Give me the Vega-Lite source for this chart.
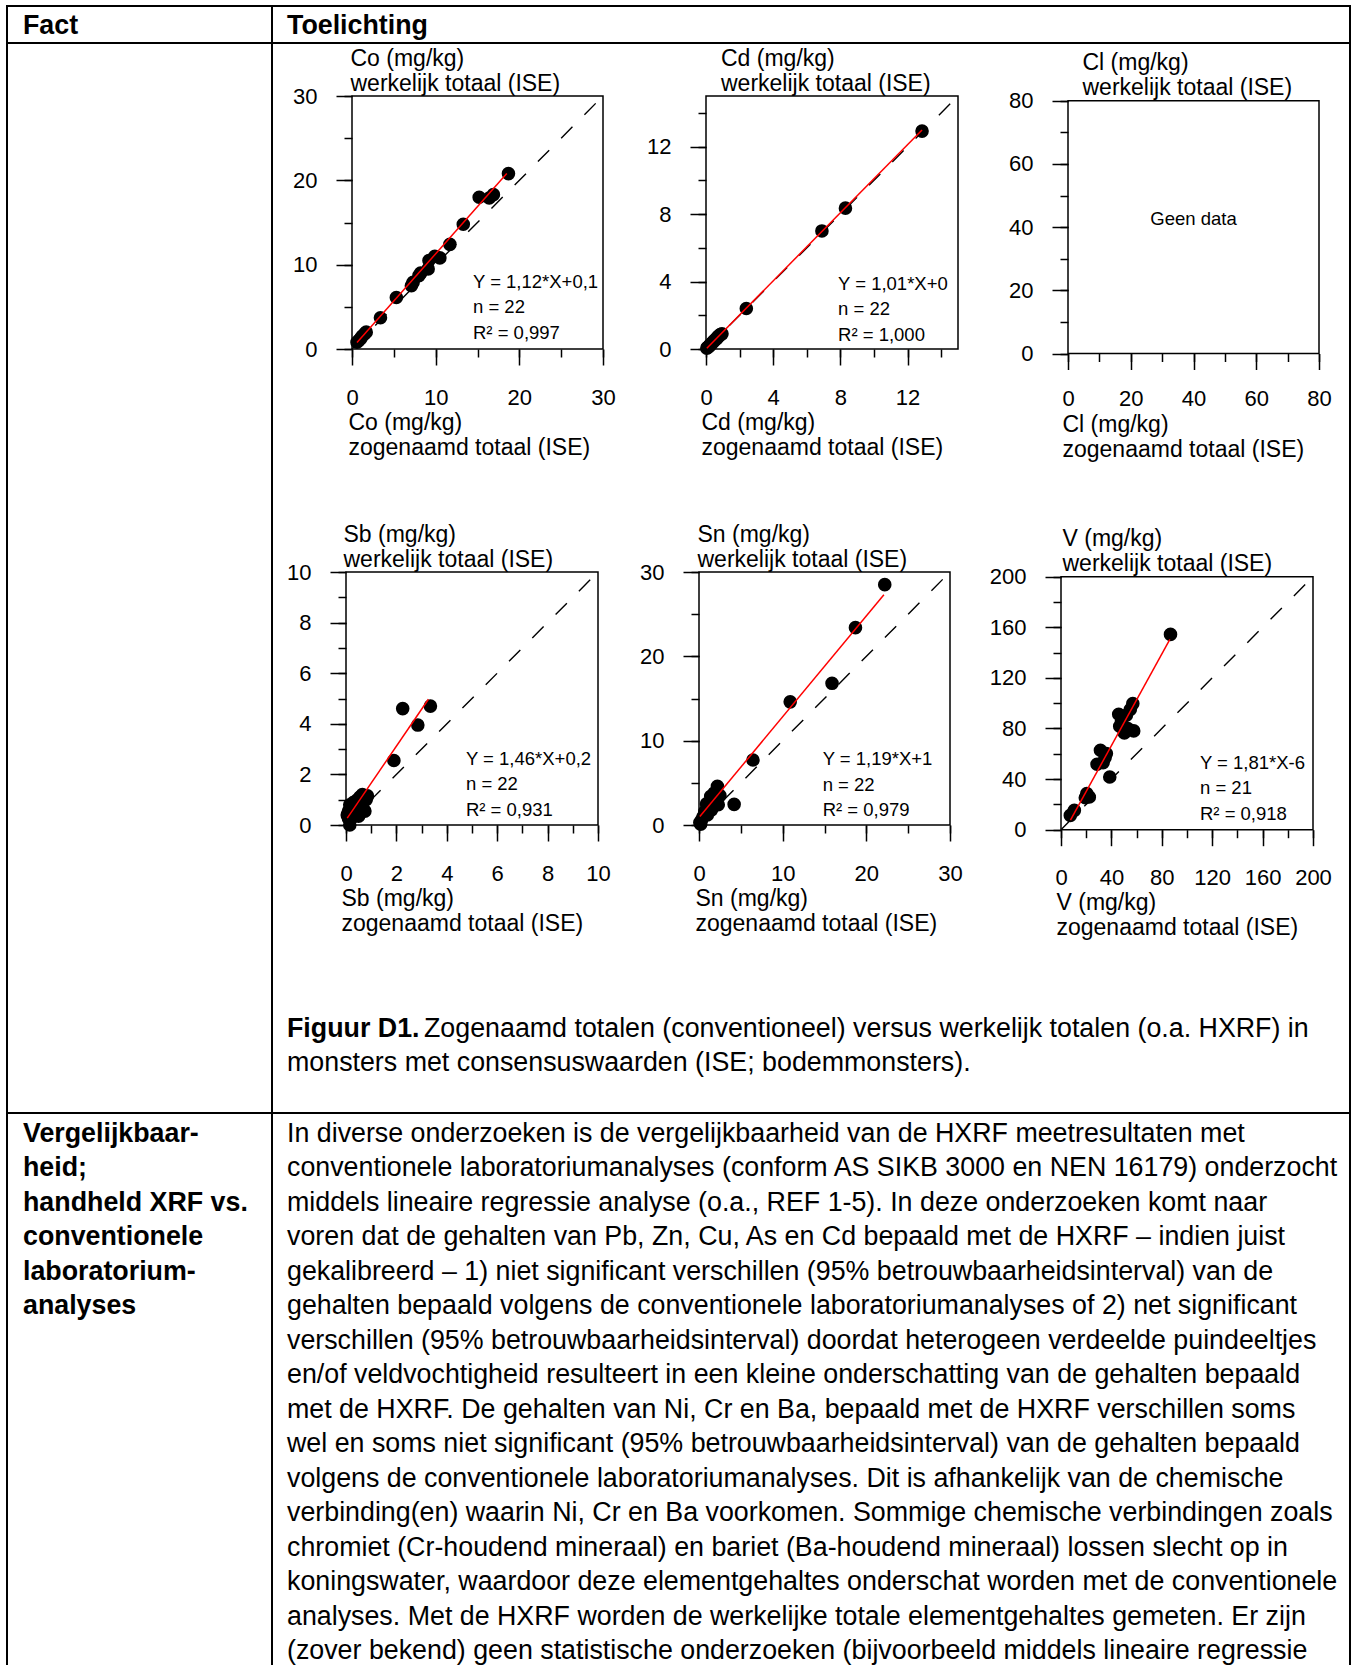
{
"$schema": "https://vega.github.io/schema/vega-lite/v6.json",
"padding": {"left": 6, "top": 5, "right": 0, "bottom": 0},
"background": "white",
"data": {"values": []},
"columns": 11,
"spacing": 0,
"bounds": "flush",
"align": "each",
"config": {
  "view": {"stroke": null},
  "font": "Liberation Sans",
  "text": {"font": "Liberation Sans", "color": "black"},
  "axis": {"domain": false, "grid": false, "tickColor": "black", "tickWidth": 1.5, "labelColor": "black", "labelFont": "Liberation Sans", "labelFontSize": 22, "labelFlush": false, "labelOverlap": false, "titleFont": "Liberation Sans", "titleFontSize": 23, "titleFontWeight": "normal", "titleColor": "black", "titleLineHeight": 25}
},
"concat": [
{"width":2,"height":2,"mark":"text","view":{"fill":"black"}},
{"width":263,"height":2,"mark":"text","view":{"fill":"black"}},
{"width":2,"height":2,"mark":"text","view":{"fill":"black"}},
{"width":73,"height":2,"mark":"text","view":{"fill":"black"}},
{"width":257,"height":2,"mark":"text","view":{"fill":"black"}},
{"width":96,"height":2,"mark":"text","view":{"fill":"black"}},
{"width":259,"height":2,"mark":"text","view":{"fill":"black"}},
{"width":103,"height":2,"mark":"text","view":{"fill":"black"}},
{"width":258,"height":2,"mark":"text","view":{"fill":"black"}},
{"width":30,"height":2,"mark":"text","view":{"fill":"black"}},
{"width":2,"height":2,"mark":"text","view":{"fill":"black"}},

{"width":2,"height":35,"mark":"text","view":{"fill":"black"}},
{"width":263,"height":35,"data":{"values":[{"t":"Fact"}]},"mark":{"type":"text","align":"left","baseline":"middle","fontSize":26.8,"fontWeight":"bold","dx":15,"dy":1},"encoding":{"text":{"field":"t"},"x":{"datum":0,"type":"quantitative","scale":{"domain":[0,1]},"axis":null}}},
{"width":2,"height":35,"mark":"text","view":{"fill":"black"}},
{"width":73,"height":35,"data":{"values":[{"t":"Toelichting"}]},"mark":{"type":"text","align":"left","baseline":"middle","fontSize":26.8,"fontWeight":"bold","dx":14,"dy":1},"encoding":{"text":{"field":"t"},"x":{"datum":0,"type":"quantitative","scale":{"domain":[0,1]},"axis":null}}},
{"width":257,"height":35,"mark":"text"},
{"width":96,"height":35,"mark":"text"},
{"width":259,"height":35,"mark":"text"},
{"width":103,"height":35,"mark":"text"},
{"width":258,"height":35,"mark":"text"},
{"width":30,"height":35,"mark":"text"},
{"width":2,"height":35,"mark":"text","view":{"fill":"black"}},

{"width":2,"height":2,"mark":"text","view":{"fill":"black"}},
{"width":263,"height":2,"mark":"text","view":{"fill":"black"}},
{"width":2,"height":2,"mark":"text","view":{"fill":"black"}},
{"width":73,"height":2,"mark":"text","view":{"fill":"black"}},
{"width":257,"height":2,"mark":"text","view":{"fill":"black"}},
{"width":96,"height":2,"mark":"text","view":{"fill":"black"}},
{"width":259,"height":2,"mark":"text","view":{"fill":"black"}},
{"width":103,"height":2,"mark":"text","view":{"fill":"black"}},
{"width":258,"height":2,"mark":"text","view":{"fill":"black"}},
{"width":30,"height":2,"mark":"text","view":{"fill":"black"}},
{"width":2,"height":2,"mark":"text","view":{"fill":"black"}},

{"width":2,"height":52,"mark":"text","view":{"fill":"black"}},
{"width":263,"height":52,"mark":"text"},
{"width":2,"height":52,"mark":"text","view":{"fill":"black"}},
{"width":73,"height":52,"mark":"text"},
{"width":257,"height":52,"mark":"text"},
{"width":96,"height":52,"mark":"text"},
{"width":259,"height":52,"mark":"text"},
{"width":103,"height":52,"mark":"text"},
{"width":258,"height":52,"mark":"text"},
{"width":30,"height":52,"mark":"text"},
{"width":2,"height":52,"mark":"text","view":{"fill":"black"}},

{"width":2,"height":253,"mark":"text","view":{"fill":"black"}},
{"width":263,"height":253,"mark":"text"},
{"width":2,"height":253,"mark":"text","view":{"fill":"black"}},
{"width":73,"height":253,"mark":"text"},
{"width":257,"height":253,"resolve":{"axis":{"x":"independent","y":"independent"}},"layer":[
 {"data":{"values":[{}]},"mark":{"type":"rect","filled":false,"color":"black","strokeWidth":1.5},"encoding":{
  "x":{"datum":0,"type":"quantitative","scale":{"domain":[0,30],"range":[6,257],"nice":false,"zero":false},"axis":null},"x2":{"datum":30},
  "y":{"datum":0,"type":"quantitative","scale":{"domain":[0,30],"nice":false,"zero":false},"axis":null},"y2":{"datum":30}}},
 {"data":{"values":[{"x":0,"y":0},{"x":30,"y":30}]},"mark":{"type":"line","color":"black","strokeWidth":1.4,"strokeDash":[16,17]},"encoding":{
  "x":{"field":"x","type":"quantitative","scale":{"domain":[0,30],"range":[6,257],"nice":false,"zero":false},"axis":{"orient":"bottom","values":[0,5,10,15,20,25,30],"tickSize":8,"labels":false,"title":null}},
  "y":{"field":"y","type":"quantitative","scale":{"domain":[0,30],"nice":false,"zero":false},"axis":{"orient":"left","offset":-6,"values":[0,5,10,15,20,25,30],"tickSize":8,"labels":false,"title":null}}}},
 {"data":{"values":[{"x":0.6,"y":0.8},{"x":0.8,"y":1.0},{"x":1.0,"y":1.2},{"x":1.2,"y":1.5},{"x":1.5,"y":1.8},{"x":1.7,"y":2.0},{"x":3.4,"y":3.7},{"x":5.3,"y":6.1},{"x":7.1,"y":7.5},{"x":7.3,"y":7.9},{"x":8.0,"y":8.7},{"x":8.2,"y":9.0},{"x":9.1,"y":9.5},{"x":9.2,"y":10.5},{"x":9.9,"y":11.0},{"x":10.5,"y":10.8},{"x":11.7,"y":12.4},{"x":13.3,"y":14.8},{"x":15.2,"y":18.0},{"x":16.4,"y":17.9},{"x":16.9,"y":18.3},{"x":18.7,"y":20.8}]},
  "mark":{"type":"circle","color":"black","opacity":1,"size":185},"encoding":{
  "x":{"field":"x","type":"quantitative","scale":{"domain":[0,30],"range":[6,257],"nice":false,"zero":false},"axis":{"orient":"bottom","values":[0,10,20,30],"tickSize":16,"labelBaseline":"alphabetic","labelPadding":39,"title":["Co (mg/kg)","zogenaamd totaal (ISE)"],"titleX":2,"titleY":80,"titleAngle":0,"titleAlign":"left","titleBaseline":"alphabetic"}},
  "y":{"field":"y","type":"quantitative","scale":{"domain":[0,30],"nice":false,"zero":false},"axis":{"orient":"left","offset":-6,"values":[0,10,20,30],"tickSize":16,"labelPadding":19,"title":["Co (mg/kg)","werkelijk totaal (ISE)"],"titleX":-2,"titleY":-31,"titleAngle":0,"titleAlign":"left","titleBaseline":"alphabetic"}}}},
 {"data":{"values":[{"x":0.6,"y":0.77},{"x":18.5,"y":20.8}]},"mark":{"type":"line","color":"#ff0000","strokeWidth":1.5},"encoding":{
  "x":{"field":"x","type":"quantitative","scale":{"domain":[0,30],"range":[6,257],"nice":false,"zero":false},"axis":null},
  "y":{"field":"y","type":"quantitative","scale":{"domain":[0,30],"nice":false,"zero":false},"axis":null}}},
 {"data":{"values":[{}]},"mark":{"type":"text","align":"left","baseline":"alphabetic","fontSize":18.5,"lineHeight":25.5},"encoding":{
  "text":{"value":["Y = 1,12*X+0,1","n = 22","R² = 0,997"]},
  "x":{"datum":14.46,"type":"quantitative","scale":{"domain":[0,30],"range":[6,257],"nice":false,"zero":false},"axis":null},
  "y":{"datum":7.28,"type":"quantitative","scale":{"domain":[0,30],"nice":false,"zero":false},"axis":null}}}
]},
{"width":96,"height":253,"mark":"text"},
{"width":259,"height":253,"resolve":{"axis":{"x":"independent","y":"independent"}},"layer":[
 {"data":{"values":[{}]},"mark":{"type":"rect","filled":false,"color":"black","strokeWidth":1.5},"encoding":{
  "x":{"datum":0,"type":"quantitative","scale":{"domain":[0,15],"range":[7,259],"nice":false,"zero":false},"axis":null},"x2":{"datum":15},
  "y":{"datum":0,"type":"quantitative","scale":{"domain":[0,15],"nice":false,"zero":false},"axis":null},"y2":{"datum":15}}},
 {"data":{"values":[{"x":0,"y":0},{"x":15,"y":15}]},"mark":{"type":"line","color":"black","strokeWidth":1.4,"strokeDash":[16,17]},"encoding":{
  "x":{"field":"x","type":"quantitative","scale":{"domain":[0,15],"range":[7,259],"nice":false,"zero":false},"axis":{"orient":"bottom","values":[0,2,4,6,8,10,12,14],"tickSize":8,"labels":false,"title":null}},
  "y":{"field":"y","type":"quantitative","scale":{"domain":[0,15],"nice":false,"zero":false},"axis":{"orient":"left","offset":-7,"values":[0,2,4,6,8,10,12,14],"tickSize":8,"labels":false,"title":null}}}},
 {"data":{"values":[{"x":0.05,"y":0.05},{"x":0.1,"y":0.1},{"x":0.15,"y":0.12},{"x":0.2,"y":0.2},{"x":0.25,"y":0.22},{"x":0.3,"y":0.3},{"x":0.35,"y":0.33},{"x":0.4,"y":0.4},{"x":0.45,"y":0.45},{"x":0.5,"y":0.5},{"x":0.55,"y":0.55},{"x":0.6,"y":0.6},{"x":0.65,"y":0.62},{"x":0.7,"y":0.72},{"x":0.75,"y":0.75},{"x":0.8,"y":0.8},{"x":0.85,"y":0.85},{"x":0.95,"y":0.9},{"x":2.4,"y":2.4},{"x":6.9,"y":7.0},{"x":8.3,"y":8.35},{"x":12.86,"y":12.92}]},
  "mark":{"type":"circle","color":"black","opacity":1,"size":185},"encoding":{
  "x":{"field":"x","type":"quantitative","scale":{"domain":[0,15],"range":[7,259],"nice":false,"zero":false},"axis":{"orient":"bottom","values":[0,4,8,12],"tickSize":16,"labelBaseline":"alphabetic","labelPadding":39,"title":["Cd (mg/kg)","zogenaamd totaal (ISE)"],"titleX":2,"titleY":80,"titleAngle":0,"titleAlign":"left","titleBaseline":"alphabetic"}},
  "y":{"field":"y","type":"quantitative","scale":{"domain":[0,15],"nice":false,"zero":false},"axis":{"orient":"left","offset":-7,"values":[0,4,8,12],"tickSize":16,"labelPadding":19,"title":["Cd (mg/kg)","werkelijk totaal (ISE)"],"titleX":14.5,"titleY":-31,"titleAngle":0,"titleAlign":"left","titleBaseline":"alphabetic"}}}},
 {"data":{"values":[{"x":0.05,"y":0.05},{"x":12.86,"y":12.99}]},"mark":{"type":"line","color":"#ff0000","strokeWidth":1.5},"encoding":{
  "x":{"field":"x","type":"quantitative","scale":{"domain":[0,15],"range":[7,259],"nice":false,"zero":false},"axis":null},
  "y":{"field":"y","type":"quantitative","scale":{"domain":[0,15],"nice":false,"zero":false},"axis":null}}},
 {"data":{"values":[{}]},"mark":{"type":"text","align":"left","baseline":"alphabetic","fontSize":18.5,"lineHeight":25.5},"encoding":{
  "text":{"value":["Y = 1,01*X+0","n = 22","R² = 1,000"]},
  "x":{"datum":7.86,"type":"quantitative","scale":{"domain":[0,15],"range":[7,259],"nice":false,"zero":false},"axis":null},
  "y":{"datum":3.52,"type":"quantitative","scale":{"domain":[0,15],"nice":false,"zero":false},"axis":null}}}
]},
{"width":103,"height":253,"mark":"text"},
{"width":258,"height":253,"resolve":{"axis":{"x":"independent","y":"independent"}},"layer":[
 {"data":{"values":[{}]},"mark":{"type":"rect","filled":false,"color":"black","strokeWidth":1.5},"encoding":{
  "x":{"datum":0,"type":"quantitative","scale":{"domain":[0,80],"range":[7,258],"nice":false,"zero":false},"axis":null},"x2":{"datum":80},
  "y":{"datum":0,"type":"quantitative","scale":{"domain":[0,80],"range":[257.5,4.7],"nice":false,"zero":false},"axis":null},"y2":{"datum":80}}},
 {"data":{"values":[{}]},"mark":{"type":"text","text":""},"encoding":{
  "x":{"datum":0,"type":"quantitative","scale":{"domain":[0,80],"range":[7,258],"nice":false,"zero":false},"axis":{"orient":"bottom","offset":4.5,"values":[0,10,20,30,40,50,60,70,80],"tickSize":8,"labels":false,"title":null}},
  "y":{"datum":0,"type":"quantitative","scale":{"domain":[0,80],"range":[257.5,4.7],"nice":false,"zero":false},"axis":{"orient":"left","offset":-7,"values":[0,10,20,30,40,50,60,70,80],"tickSize":8,"labels":false,"title":null}}}},
 {"data":{"values":[{}]},"mark":{"type":"text","align":"center","baseline":"middle","fontSize":18.5},"encoding":{
  "text":{"value":"Geen data"},
  "x":{"datum":40,"type":"quantitative","scale":{"domain":[0,80],"range":[7,258],"nice":false,"zero":false},"axis":{"orient":"bottom","offset":4.5,"values":[0,20,40,60,80],"tickSize":16,"labelBaseline":"alphabetic","labelPadding":36,"title":["Cl (mg/kg)","zogenaamd totaal (ISE)"],"titleX":1,"titleY":78,"titleAngle":0,"titleAlign":"left","titleBaseline":"alphabetic"}},
  "y":{"datum":42.6,"type":"quantitative","scale":{"domain":[0,80],"range":[257.5,4.7],"nice":false,"zero":false},"axis":{"orient":"left","offset":-7,"values":[0,20,40,60,80],"tickSize":16,"labelPadding":19,"title":["Cl (mg/kg)","werkelijk totaal (ISE)"],"titleX":14,"titleY":-26.5,"titleAngle":0,"titleAlign":"left","titleBaseline":"alphabetic"}}}}
]},
{"width":30,"height":253,"mark":"text"},
{"width":2,"height":253,"mark":"text","view":{"fill":"black"}},

{"width":2,"height":223,"mark":"text","view":{"fill":"black"}},
{"width":263,"height":223,"mark":"text"},
{"width":2,"height":223,"mark":"text","view":{"fill":"black"}},
{"width":73,"height":223,"mark":"text"},
{"width":257,"height":223,"mark":"text"},
{"width":96,"height":223,"mark":"text"},
{"width":259,"height":223,"mark":"text"},
{"width":103,"height":223,"mark":"text"},
{"width":258,"height":223,"mark":"text"},
{"width":30,"height":223,"mark":"text"},
{"width":2,"height":223,"mark":"text","view":{"fill":"black"}},

{"width":2,"height":253,"mark":"text","view":{"fill":"black"}},
{"width":263,"height":253,"mark":"text"},
{"width":2,"height":253,"mark":"text","view":{"fill":"black"}},
{"width":73,"height":253,"mark":"text"},
{"width":257,"height":253,"resolve":{"axis":{"x":"independent","y":"independent"}},"layer":[
 {"data":{"values":[{}]},"mark":{"type":"rect","filled":false,"color":"black","strokeWidth":1.5},"encoding":{
  "x":{"datum":0,"type":"quantitative","scale":{"domain":[0,10],"range":[0,252],"nice":false,"zero":false},"axis":null},"x2":{"datum":10},
  "y":{"datum":0,"type":"quantitative","scale":{"domain":[0,10],"nice":false,"zero":false},"axis":null},"y2":{"datum":10}}},
 {"data":{"values":[{"x":0,"y":0},{"x":10,"y":10}]},"mark":{"type":"line","color":"black","strokeWidth":1.4,"strokeDash":[16,17]},"encoding":{
  "x":{"field":"x","type":"quantitative","scale":{"domain":[0,10],"range":[0,252],"nice":false,"zero":false},"axis":{"orient":"bottom","values":[0,1,2,3,4,5,6,7,8,9,10],"tickSize":8,"labels":false,"title":null}},
  "y":{"field":"y","type":"quantitative","scale":{"domain":[0,10],"nice":false,"zero":false},"axis":{"orient":"left","values":[0,1,2,3,4,5,6,7,8,9,10],"tickSize":8,"labels":false,"title":null}}}},
 {"data":{"values":[{"x":0.15,"y":0.0},{"x":0.1,"y":0.25},{"x":0.05,"y":0.4},{"x":0.1,"y":0.55},{"x":0.2,"y":0.6},{"x":0.15,"y":0.8},{"x":0.3,"y":0.5},{"x":0.3,"y":0.9},{"x":0.4,"y":0.7},{"x":0.45,"y":1.0},{"x":0.55,"y":1.1},{"x":0.6,"y":0.8},{"x":0.65,"y":1.2},{"x":0.75,"y":0.55},{"x":0.8,"y":1.0},{"x":0.85,"y":1.15},{"x":0.25,"y":0.3},{"x":0.5,"y":0.35},{"x":1.9,"y":2.55},{"x":2.25,"y":4.6},{"x":2.85,"y":3.95},{"x":3.35,"y":4.7}]},
  "mark":{"type":"circle","color":"black","opacity":1,"size":185},"encoding":{
  "x":{"field":"x","type":"quantitative","scale":{"domain":[0,10],"range":[0,252],"nice":false,"zero":false},"axis":{"orient":"bottom","values":[0,2,4,6,8,10],"tickSize":16,"labelBaseline":"alphabetic","labelPadding":39,"title":["Sb (mg/kg)","zogenaamd totaal (ISE)"],"titleX":-5,"titleY":80,"titleAngle":0,"titleAlign":"left","titleBaseline":"alphabetic"}},
  "y":{"field":"y","type":"quantitative","scale":{"domain":[0,10],"nice":false,"zero":false},"axis":{"orient":"left","values":[0,2,4,6,8,10],"tickSize":16,"labelPadding":19,"title":["Sb (mg/kg)","werkelijk totaal (ISE)"],"titleX":-3,"titleY":-31,"titleAngle":0,"titleAlign":"left","titleBaseline":"alphabetic"}}}},
 {"data":{"values":[{"x":0.05,"y":0.27},{"x":3.27,"y":4.97}]},"mark":{"type":"line","color":"#ff0000","strokeWidth":1.5},"encoding":{
  "x":{"field":"x","type":"quantitative","scale":{"domain":[0,10],"range":[0,252],"nice":false,"zero":false},"axis":null},
  "y":{"field":"y","type":"quantitative","scale":{"domain":[0,10],"nice":false,"zero":false},"axis":null}}},
 {"data":{"values":[{}]},"mark":{"type":"text","align":"left","baseline":"alphabetic","fontSize":18.5,"lineHeight":25.5},"encoding":{
  "text":{"value":["Y = 1,46*X+0,2","n = 22","R² = 0,931"]},
  "x":{"datum":4.76,"type":"quantitative","scale":{"domain":[0,10],"range":[0,252],"nice":false,"zero":false},"axis":null},
  "y":{"datum":2.39,"type":"quantitative","scale":{"domain":[0,10],"nice":false,"zero":false},"axis":null}}}
]},
{"width":96,"height":253,"mark":"text"},
{"width":259,"height":253,"resolve":{"axis":{"x":"independent","y":"independent"}},"layer":[
 {"data":{"values":[{}]},"mark":{"type":"rect","filled":false,"color":"black","strokeWidth":1.5},"encoding":{
  "x":{"datum":0,"type":"quantitative","scale":{"domain":[0,30],"range":[0,251],"nice":false,"zero":false},"axis":null},"x2":{"datum":30},
  "y":{"datum":0,"type":"quantitative","scale":{"domain":[0,30],"nice":false,"zero":false},"axis":null},"y2":{"datum":30}}},
 {"data":{"values":[{"x":0,"y":0},{"x":30,"y":30}]},"mark":{"type":"line","color":"black","strokeWidth":1.4,"strokeDash":[16,17]},"encoding":{
  "x":{"field":"x","type":"quantitative","scale":{"domain":[0,30],"range":[0,251],"nice":false,"zero":false},"axis":{"orient":"bottom","values":[0,5,10,15,20,25,30],"tickSize":8,"labels":false,"title":null}},
  "y":{"field":"y","type":"quantitative","scale":{"domain":[0,30],"nice":false,"zero":false},"axis":{"orient":"left","values":[0,5,10,15,20,25,30],"tickSize":8,"labels":false,"title":null}}}},
 {"data":{"values":[{"x":0.1,"y":0.3},{"x":0.2,"y":0.1},{"x":0.3,"y":0.6},{"x":0.5,"y":1.0},{"x":0.7,"y":1.6},{"x":0.9,"y":2.5},{"x":1.0,"y":1.2},{"x":1.2,"y":2.0},{"x":1.4,"y":3.4},{"x":1.5,"y":1.8},{"x":1.6,"y":2.6},{"x":1.8,"y":3.8},{"x":2.0,"y":3.0},{"x":2.2,"y":4.6},{"x":2.3,"y":2.4},{"x":2.5,"y":3.5},{"x":4.2,"y":2.45},{"x":6.45,"y":7.7},{"x":10.9,"y":14.6},{"x":15.9,"y":16.8},{"x":18.7,"y":23.4},{"x":22.2,"y":28.5}]},
  "mark":{"type":"circle","color":"black","opacity":1,"size":185},"encoding":{
  "x":{"field":"x","type":"quantitative","scale":{"domain":[0,30],"range":[0,251],"nice":false,"zero":false},"axis":{"orient":"bottom","values":[0,10,20,30],"tickSize":16,"labelBaseline":"alphabetic","labelPadding":39,"title":["Sn (mg/kg)","zogenaamd totaal (ISE)"],"titleX":-4,"titleY":80,"titleAngle":0,"titleAlign":"left","titleBaseline":"alphabetic"}},
  "y":{"field":"y","type":"quantitative","scale":{"domain":[0,30],"nice":false,"zero":false},"axis":{"orient":"left","values":[0,10,20,30],"tickSize":16,"labelPadding":19,"title":["Sn (mg/kg)","werkelijk totaal (ISE)"],"titleX":-2,"titleY":-31,"titleAngle":0,"titleAlign":"left","titleBaseline":"alphabetic"}}}},
 {"data":{"values":[{"x":0.1,"y":1.0},{"x":22.1,"y":27.3}]},"mark":{"type":"line","color":"#ff0000","strokeWidth":1.5},"encoding":{
  "x":{"field":"x","type":"quantitative","scale":{"domain":[0,30],"range":[0,251],"nice":false,"zero":false},"axis":null},
  "y":{"field":"y","type":"quantitative","scale":{"domain":[0,30],"nice":false,"zero":false},"axis":null}}},
 {"data":{"values":[{}]},"mark":{"type":"text","align":"left","baseline":"alphabetic","fontSize":18.5,"lineHeight":25.5},"encoding":{
  "text":{"value":["Y = 1,19*X+1","n = 22","R² = 0,979"]},
  "x":{"datum":14.78,"type":"quantitative","scale":{"domain":[0,30],"range":[0,251],"nice":false,"zero":false},"axis":null},
  "y":{"datum":7.08,"type":"quantitative","scale":{"domain":[0,30],"nice":false,"zero":false},"axis":null}}}
]},
{"width":103,"height":253,"mark":"text"},
{"width":258,"height":253,"resolve":{"axis":{"x":"independent","y":"independent"}},"layer":[
 {"data":{"values":[{}]},"mark":{"type":"rect","filled":false,"color":"black","strokeWidth":1.5},"encoding":{
  "x":{"datum":0,"type":"quantitative","scale":{"domain":[0,200],"range":[0,252],"nice":false,"zero":false},"axis":null},"x2":{"datum":200},
  "y":{"datum":0,"type":"quantitative","scale":{"domain":[0,200],"range":[257.7,4.7],"nice":false,"zero":false},"axis":null},"y2":{"datum":200}}},
 {"data":{"values":[{"x":0,"y":0},{"x":200,"y":200}]},"mark":{"type":"line","color":"black","strokeWidth":1.4,"strokeDash":[16,17]},"encoding":{
  "x":{"field":"x","type":"quantitative","scale":{"domain":[0,200],"range":[0,252],"nice":false,"zero":false},"axis":{"orient":"bottom","offset":4.7,"values":[0,20,40,60,80,100,120,140,160,180,200],"tickSize":8,"labels":false,"title":null}},
  "y":{"field":"y","type":"quantitative","scale":{"domain":[0,200],"range":[257.7,4.7],"nice":false,"zero":false},"axis":{"orient":"left","values":[0,20,40,60,80,100,120,140,160,180,200],"tickSize":8,"labels":false,"title":null}}}},
 {"data":{"values":[{"x":7.4,"y":11.3},{"x":10.6,"y":15.3},{"x":19.3,"y":25.3},{"x":22.5,"y":25.9},{"x":20.5,"y":28.5},{"x":28.6,"y":51.7},{"x":31.3,"y":62.8},{"x":33.4,"y":53.0},{"x":36.0,"y":60.2},{"x":35.0,"y":57.0},{"x":38.7,"y":41.7},{"x":45.8,"y":91.3},{"x":46.6,"y":81.8},{"x":48.0,"y":86.0},{"x":51.9,"y":90.5},{"x":50.3,"y":76.5},{"x":53.0,"y":80.0},{"x":55.0,"y":95.0},{"x":57.7,"y":78.1},{"x":57.0,"y":99.7},{"x":86.9,"y":154.4}]},
  "mark":{"type":"circle","color":"black","opacity":1,"size":185},"encoding":{
  "x":{"field":"x","type":"quantitative","scale":{"domain":[0,200],"range":[0,252],"nice":false,"zero":false},"axis":{"orient":"bottom","offset":4.7,"values":[0,40,80,120,160,200],"tickSize":16,"labelBaseline":"alphabetic","labelPadding":39,"title":["V (mg/kg)","zogenaamd totaal (ISE)"],"titleX":-5,"titleY":80,"titleAngle":0,"titleAlign":"left","titleBaseline":"alphabetic"}},
  "y":{"field":"y","type":"quantitative","scale":{"domain":[0,200],"range":[257.7,4.7],"nice":false,"zero":false},"axis":{"orient":"left","values":[0,40,80,120,160,200],"tickSize":16,"labelPadding":19,"title":["V (mg/kg)","werkelijk totaal (ISE)"],"titleX":1,"titleY":-26.7,"titleAngle":0,"titleAlign":"left","titleBaseline":"alphabetic"}}}},
 {"data":{"values":[{"x":7.5,"y":7.6},{"x":86.4,"y":150.4}]},"mark":{"type":"line","color":"#ff0000","strokeWidth":1.5},"encoding":{
  "x":{"field":"x","type":"quantitative","scale":{"domain":[0,200],"range":[0,252],"nice":false,"zero":false},"axis":null},
  "y":{"field":"y","type":"quantitative","scale":{"domain":[0,200],"range":[257.7,4.7],"nice":false,"zero":false},"axis":null}}},
 {"data":{"values":[{}]},"mark":{"type":"text","align":"left","baseline":"alphabetic","fontSize":18.5,"lineHeight":25.5},"encoding":{
  "text":{"value":["Y = 1,81*X-6","n = 21","R² = 0,918"]},
  "x":{"datum":110.3,"type":"quantitative","scale":{"domain":[0,200],"range":[0,252],"nice":false,"zero":false},"axis":null},
  "y":{"datum":48.3,"type":"quantitative","scale":{"domain":[0,200],"range":[257.7,4.7],"nice":false,"zero":false},"axis":null}}}
]},
{"width":30,"height":253,"mark":"text"},
{"width":2,"height":253,"mark":"text","view":{"fill":"black"}},

{"width":2,"height":287,"mark":"text","view":{"fill":"black"}},
{"width":263,"height":287,"mark":"text"},
{"width":2,"height":287,"mark":"text","view":{"fill":"black"}},
{"width":73,"height":287,"layer":[
 {"data":{"values":[{"t":"Figuur D1.","line":1}]},"mark":{"type":"text","align":"left","baseline":"middle","fontSize":26.8,"fontWeight":"bold","dx":14},"encoding":{"text":{"field":"t"},"x":{"datum":0,"type":"quantitative","scale":{"domain":[0,1]},"axis":null},"y":{"field":"line","type":"quantitative","scale":{"domain":[1,2],"range":[204,238]},"axis":null}}},
 {"data":{"values":[{"t":"Zogenaamd totalen (conventioneel) versus werkelijk totalen (o.a. HXRF) in","line":1}]},"mark":{"type":"text","align":"left","baseline":"middle","fontSize":26.8,"dx":151},"encoding":{"text":{"field":"t"},"x":{"datum":0,"type":"quantitative","scale":{"domain":[0,1]},"axis":null},"y":{"field":"line","type":"quantitative","scale":{"domain":[1,2],"range":[204,238]},"axis":null}}},
 {"data":{"values":[{"t":"monsters met consensuswaarden (ISE; bodemmonsters).","line":2}]},"mark":{"type":"text","align":"left","baseline":"middle","fontSize":26.8,"dx":14},"encoding":{"text":{"field":"t"},"x":{"datum":0,"type":"quantitative","scale":{"domain":[0,1]},"axis":null},"y":{"field":"line","type":"quantitative","scale":{"domain":[1,2],"range":[204,238]},"axis":null}}}
]},
{"width":257,"height":287,"mark":"text"},
{"width":96,"height":287,"mark":"text"},
{"width":259,"height":287,"mark":"text"},
{"width":103,"height":287,"mark":"text"},
{"width":258,"height":287,"mark":"text"},
{"width":30,"height":287,"mark":"text"},
{"width":2,"height":287,"mark":"text","view":{"fill":"black"}},

{"width":2,"height":2,"mark":"text","view":{"fill":"black"}},
{"width":263,"height":2,"mark":"text","view":{"fill":"black"}},
{"width":2,"height":2,"mark":"text","view":{"fill":"black"}},
{"width":73,"height":2,"mark":"text","view":{"fill":"black"}},
{"width":257,"height":2,"mark":"text","view":{"fill":"black"}},
{"width":96,"height":2,"mark":"text","view":{"fill":"black"}},
{"width":259,"height":2,"mark":"text","view":{"fill":"black"}},
{"width":103,"height":2,"mark":"text","view":{"fill":"black"}},
{"width":258,"height":2,"mark":"text","view":{"fill":"black"}},
{"width":30,"height":2,"mark":"text","view":{"fill":"black"}},
{"width":2,"height":2,"mark":"text","view":{"fill":"black"}},

{"width":2,"height":551,"mark":"text","view":{"fill":"black"}},
{"width":263,"height":551,"data":{"values":[{"line":1,"t":"Vergelijkbaar-"},{"line":2,"t":"heid;"},{"line":3,"t":"handheld XRF vs."},{"line":4,"t":"conventionele"},{"line":5,"t":"laboratorium-"},{"line":6,"t":"analyses"}]},"mark":{"type":"text","align":"left","baseline":"middle","fontSize":26.8,"fontWeight":"bold","dx":15},"encoding":{"text":{"field":"t"},"x":{"datum":0,"type":"quantitative","scale":{"domain":[0,1]},"axis":null},"y":{"field":"line","type":"quantitative","scale":{"domain":[1,16],"range":[20,537]},"axis":null}}},
{"width":2,"height":551,"mark":"text","view":{"fill":"black"}},
{"width":73,"height":551,"data":{"values":[
 {"line":1,"t":"In diverse onderzoeken is de vergelijkbaarheid van de HXRF meetresultaten met"},
 {"line":2,"t":"conventionele laboratoriumanalyses (conform AS SIKB 3000 en NEN 16179) onderzocht"},
 {"line":3,"t":"middels lineaire regressie analyse (o.a., REF 1-5). In deze onderzoeken komt naar"},
 {"line":4,"t":"voren dat de gehalten van Pb, Zn, Cu, As en Cd bepaald met de HXRF – indien juist"},
 {"line":5,"t":"gekalibreerd – 1) niet significant verschillen (95% betrouwbaarheidsinterval) van de"},
 {"line":6,"t":"gehalten bepaald volgens de conventionele laboratoriumanalyses of 2) net significant"},
 {"line":7,"t":"verschillen (95% betrouwbaarheidsinterval) doordat heterogeen verdeelde puindeeltjes"},
 {"line":8,"t":"en/of veldvochtigheid resulteert in een kleine onderschatting van de gehalten bepaald"},
 {"line":9,"t":"met de HXRF. De gehalten van Ni, Cr en Ba, bepaald met de HXRF verschillen soms"},
 {"line":10,"t":"wel en soms niet significant (95% betrouwbaarheidsinterval) van de gehalten bepaald"},
 {"line":11,"t":"volgens de conventionele laboratoriumanalyses. Dit is afhankelijk van de chemische"},
 {"line":12,"t":"verbinding(en) waarin Ni, Cr en Ba voorkomen. Sommige chemische verbindingen zoals"},
 {"line":13,"t":"chromiet (Cr-houdend mineraal) en bariet (Ba-houdend mineraal) lossen slecht op in"},
 {"line":14,"t":"koningswater, waardoor deze elementgehaltes onderschat worden met de conventionele"},
 {"line":15,"t":"analyses. Met de HXRF worden de werkelijke totale elementgehaltes gemeten. Er zijn"},
 {"line":16,"t":"(zover bekend) geen statistische onderzoeken (bijvoorbeeld middels lineaire regressie"}
]},"mark":{"type":"text","align":"left","baseline":"middle","fontSize":26.8,"dx":14},"encoding":{"text":{"field":"t"},"x":{"datum":0,"type":"quantitative","scale":{"domain":[0,1]},"axis":null},"y":{"field":"line","type":"quantitative","scale":{"domain":[1,16],"range":[20,537]},"axis":null}}},
{"width":257,"height":551,"mark":"text"},
{"width":96,"height":551,"mark":"text"},
{"width":259,"height":551,"mark":"text"},
{"width":103,"height":551,"mark":"text"},
{"width":258,"height":551,"mark":"text"},
{"width":30,"height":551,"mark":"text"},
{"width":2,"height":551,"mark":"text","view":{"fill":"black"}}
]
}
